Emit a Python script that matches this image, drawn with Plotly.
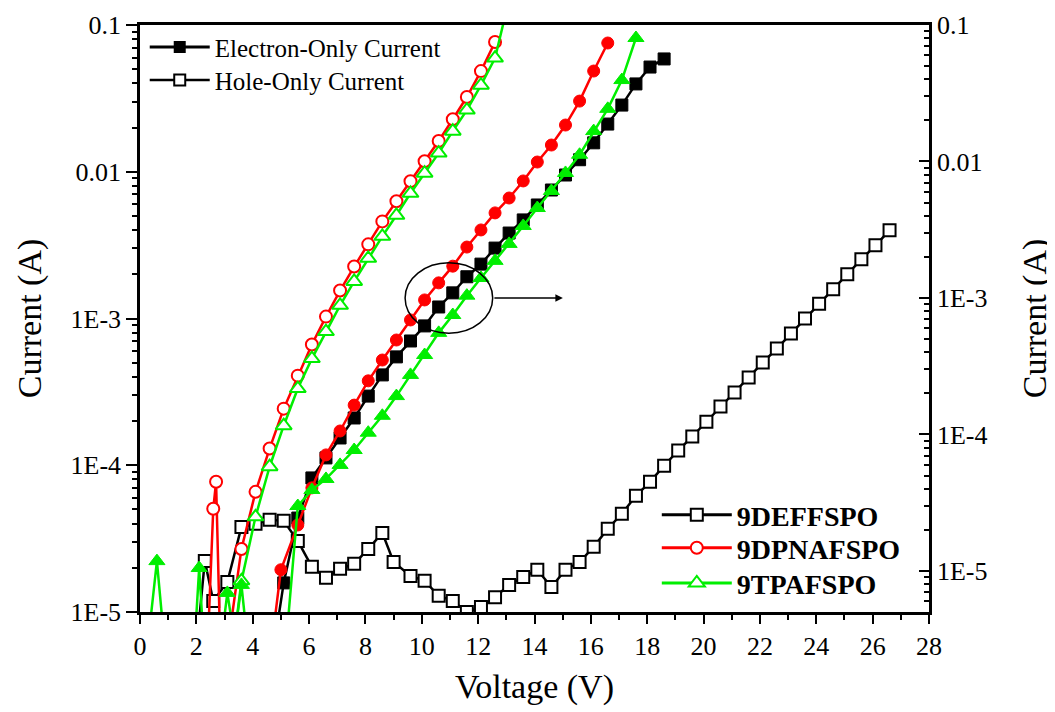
import plotly.graph_objects as go

# ---------------- data ----------------
# Hole-only currents (open markers, left axis)
v_hole_deff = [2.0, 2.3, 2.6, 3.1, 3.6, 4.1, 4.6, 5.1, 5.6, 6.1, 6.6, 7.1, 7.6, 8.1, 8.6, 9.0, 9.6, 10.1,
               10.6, 11.1, 11.6, 12.1, 12.6, 13.1, 13.6, 14.1, 14.6, 15.1, 15.6, 16.1, 16.6, 17.1, 17.6,
               18.1, 18.6, 19.1, 19.6, 20.1, 20.6, 21.1, 21.6, 22.1, 22.6, 23.1, 23.6, 24.1, 24.6, 25.1,
               25.6, 26.1, 26.6]
i_hole_deff = [5.6e-6, 2.23e-5, 1.19e-5, 1.60e-5, 3.80e-5, 3.99e-5, 4.25e-5, 4.18e-5, 3.05e-5, 2.03e-5,
               1.71e-5, 1.97e-5, 2.13e-5, 2.69e-5, 3.46e-5, 2.19e-5, 1.76e-5, 1.63e-5, 1.29e-5, 1.19e-5,
               1.0e-5, 1.08e-5, 1.26e-5, 1.53e-5, 1.73e-5, 1.94e-5, 1.48e-5, 1.94e-5, 2.19e-5, 2.78e-5,
               3.69e-5, 4.67e-5, 6.19e-5, 7.71e-5, 9.93e-5, 1.26e-4, 1.57e-4, 1.98e-4, 2.51e-4, 3.13e-4,
               3.96e-4, 5.01e-4, 6.24e-4, 7.90e-4, 1.0e-3, 1.26e-3, 1.58e-3, 2.0e-3, 2.53e-3, 3.15e-3,
               3.99e-3]

v_hole_dpna = [2.4, 2.6, 2.7, 2.85, 3.1, 3.6, 4.1, 4.6, 5.1, 5.6, 6.1, 6.6, 7.1, 7.6, 8.1, 8.6, 9.1, 9.6,
               10.1, 10.6, 11.1, 11.6, 12.1, 12.6]
i_hole_dpna = [5.6e-6, 5.05e-5, 7.71e-5, 5.6e-6, 5.6e-6, 2.69e-5, 6.59e-5, 1.30e-4, 2.43e-4, 4.08e-4,
               6.65e-4, 1.03e-3, 1.55e-3, 2.26e-3, 3.20e-3, 4.59e-3, 6.29e-3, 8.61e-3, 1.18e-2, 1.62e-2,
               2.28e-2, 3.23e-2, 4.85e-2, 7.66e-2]

v_hole_tpa = [3.3, 3.6, 4.1, 4.6, 5.1, 5.6, 6.1, 6.6, 7.1, 7.6, 8.1, 8.6, 9.1, 9.6, 10.1, 10.6, 11.1,
              11.6, 12.1, 12.6, 13.1]
i_hole_tpa = [5.6e-6, 1.63e-5, 4.45e-5, 9.77e-5, 1.86e-4, 3.33e-4, 5.33e-4, 8.15e-4, 1.23e-3, 1.79e-3,
              2.57e-3, 3.63e-3, 5.05e-3, 7.13e-3, 9.77e-3, 1.34e-2, 1.89e-2, 2.63e-2, 3.89e-2, 5.95e-2,
              1.5e-1]

# Electron-only currents (filled markers, right axis)
v_el_deff = [4.8, 5.1, 5.6, 6.1, 6.6, 7.1, 7.6, 8.1, 8.6, 9.1, 9.6, 10.1, 10.6, 11.1, 11.6, 12.1, 12.6,
             13.1, 13.6, 14.1, 14.6, 15.1, 15.6, 16.1, 16.6, 17.1, 17.6, 18.1, 18.6]
i_el_deff = [3.2e-6, 8.17e-6, 2.44e-5, 4.80e-5, 6.73e-5, 9.42e-5, 1.32e-4, 1.91e-4, 2.73e-4, 3.70e-4,
             4.84e-4, 6.24e-4, 8.59e-4, 1.09e-3, 1.43e-3, 1.77e-3, 2.32e-3, 2.99e-3, 3.73e-3, 4.80e-3,
             6.18e-3, 7.96e-3, 1.03e-2, 1.37e-2, 1.88e-2, 2.59e-2, 3.70e-2, 4.92e-2, 5.64e-2]

v_el_dpna = [4.7, 5.0, 5.6, 6.1, 6.6, 7.1, 7.6, 8.1, 8.6, 9.1, 9.6, 10.1, 10.6, 11.1, 11.6, 12.1, 12.6,
             13.1, 13.6, 14.1, 14.6, 15.1, 15.6, 16.1, 16.6]
i_el_dpna = [3.2e-6, 1.02e-5, 2.17e-5, 4.06e-5, 7.08e-5, 1.06e-4, 1.64e-4, 2.47e-4, 3.51e-4, 4.92e-4,
             6.90e-4, 9.67e-4, 1.29e-3, 1.71e-3, 2.36e-3, 3.15e-3, 4.20e-3, 5.40e-3, 7.20e-3, 9.91e-3,
             1.32e-2, 1.85e-2, 2.77e-2, 4.60e-2, 7.38e-2]

v_el_tpa = [0.3, 0.6, 0.85, 1.95, 2.1, 2.25, 2.9, 3.1, 3.35, 3.6, 3.8, 5.2, 5.6, 6.1, 6.6, 7.1, 7.6, 8.1,
            8.6, 9.1, 9.6, 10.1, 10.6, 11.1, 11.6, 12.1, 12.6, 13.1, 13.6, 14.1, 14.6, 15.1, 15.6, 16.1,
            16.6, 17.1, 17.6]
i_el_tpa = [3.2e-6, 1.18e-5, 3.2e-6, 3.2e-6, 1.05e-5, 3.2e-6, 3.2e-6, 6.9e-6, 3.2e-6, 7.9e-6, 3.2e-6,
            3.2e-6, 2.99e-5, 3.92e-5, 4.72e-5, 5.98e-5, 7.69e-5, 1.03e-4, 1.37e-4, 1.91e-4, 2.73e-4,
            3.82e-4, 5.55e-4, 7.50e-4, 1.04e-3, 1.40e-3, 1.87e-3, 2.49e-3, 3.37e-3, 4.56e-3, 6.08e-3,
            8.24e-3, 1.12e-2, 1.67e-2, 2.43e-2, 3.95e-2, 8.03e-2]

compounds = ["9DEFFSPO", "9DPNAFSPO", "9TPAFSPO"]
type_labels = ["Electron-Only Current", "Hole-Only Current"]
y_tickvals = [1e-5, 1e-4, 1e-3, 1e-2, 1e-1]
y_ticktext = ["1E-5", "1E-4", "1E-3", "0.01", "0.1"]

# ---------------- styling ----------------
FONT = "Times New Roman, Liberation Serif, DejaVu Serif, serif"
BLACK, RED, GREEN = "#000000", "#ff0000", "#00ee00"
colors = [BLACK, RED, GREEN]
symbols = ["square", "circle", "triangle-up"]
sizes = [12, 12, 14]

fig = go.Figure()

hole = [(v_hole_deff, i_hole_deff), (v_hole_dpna, i_hole_dpna), (v_hole_tpa, i_hole_tpa)]
elec = [(v_el_deff, i_el_deff), (v_el_dpna, i_el_dpna), (v_el_tpa, i_el_tpa)]

for k, (v, i) in enumerate(elec):
    fig.add_trace(go.Scatter(
        x=v, y=i, yaxis="y2", mode="lines+markers", showlegend=False,
        line=dict(color=colors[k], width=2.5),
        marker=dict(symbol=symbols[k], size=sizes[k], color=colors[k],
                    line=dict(color=colors[k], width=1)),
        cliponaxis=True))

for k, (v, i) in enumerate(hole):
    fig.add_trace(go.Scatter(
        x=v, y=i, yaxis="y", mode="lines+markers", showlegend=False,
        line=dict(color=colors[k], width=2.5),
        marker=dict(symbol=symbols[k], size=sizes[k], color="white",
                    line=dict(color=colors[k], width=2)),
        cliponaxis=True))

# legend entries (one legend each, for exact placement)
fig.add_trace(go.Scatter(x=[None], y=[None], mode="lines+markers", name=type_labels[0],
                         line=dict(color=BLACK, width=3),
                         marker=dict(symbol="square", size=12, color=BLACK), legend="legend"))
fig.add_trace(go.Scatter(x=[None], y=[None], mode="lines+markers", name=type_labels[1],
                         line=dict(color=BLACK, width=2.5),
                         marker=dict(symbol="square", size=11, color="white",
                                     line=dict(color=BLACK, width=2)), legend="legend2"))
for k, name in enumerate(compounds):
    fig.add_trace(go.Scatter(x=[None], y=[None], mode="lines+markers", name=name,
                             line=dict(color=colors[k], width=3),
                             marker=dict(symbol=symbols[k], size=sizes[k], color="white",
                                         line=dict(color=colors[k], width=2)),
                             legend="legend%d" % (k + 3)))

axis_font = dict(family=FONT, size=26, color="black")
title_font = dict(family=FONT, size=34, color="black")
minor_vals = [m * 10 ** e for e in range(-6, -1) for m in range(2, 10)]

type_legend_font = dict(family=FONT, size=25, color="black")
comp_legend_font = dict(family=FONT, size=28, color="black", weight="bold")


def leg(x, y, font, iw):
    return dict(x=x, y=y, xanchor="left", yanchor="middle", bgcolor="rgba(0,0,0,0)",
                font=font, itemwidth=iw, borderwidth=0)


fig.update_layout(
    width=1055, height=712,
    margin=dict(l=132, r=134, t=17, b=108, autoexpand=False),
    paper_bgcolor="white", plot_bgcolor="white",
    font=dict(family=FONT, color="black"),
    xaxis=dict(range=[0, 28], dtick=2, tick0=0, showline=True, linecolor="black", linewidth=2.5,
               mirror=True, ticks="outside", ticklen=9, tickwidth=2, tickcolor="black",
               minor=dict(dtick=1, ticks="outside", ticklen=5, tickwidth=2, tickcolor="black"),
               showgrid=False, zeroline=False, tickfont=axis_font, automargin=False,
               title=dict(text="Voltage (V)", font=title_font, standoff=15)),
    yaxis=dict(type="log", range=[-5, -1], tickvals=y_tickvals, ticktext=y_ticktext,
               showline=True, linecolor="black", linewidth=2.5, ticks="outside", ticklen=11,
               tickwidth=2, tickcolor="black", automargin=False,
               minor=dict(tickvals=minor_vals, ticks="outside", ticklen=5, tickwidth=1.5,
                          tickcolor="black", showgrid=False),
               showgrid=False, zeroline=False, tickfont=axis_font,
               title=dict(text="Current (A)", font=title_font, standoff=19)),
    yaxis2=dict(type="log", range=[-5.301, -1], overlaying="y", side="right",
                tickvals=y_tickvals, ticktext=y_ticktext, automargin=False,
                showline=True, linecolor="black", linewidth=2.5, ticks="inside", ticklen=10,
                tickwidth=2, tickcolor="black",
                minor=dict(tickvals=minor_vals, ticks="inside", ticklen=5, tickwidth=1.5,
                           tickcolor="black", showgrid=False),
                showgrid=False, zeroline=False, tickfont=axis_font,
                title=dict(text="Current (A)", font=title_font, standoff=36)),
    legend=leg(0.006, 0.962, type_legend_font, 60),
    legend2=leg(0.006, 0.906, type_legend_font, 60),
    legend3=leg(0.655, 0.165, comp_legend_font, 70),
    legend4=leg(0.655, 0.109, comp_legend_font, 70),
    legend5=leg(0.655, 0.049, comp_legend_font, 70),
    shapes=[
        dict(type="circle", xref="paper", yref="paper", x0=0.336, x1=0.447, y0=0.475, y1=0.595,
             line=dict(color="black", width=1.5)),
    ],
    annotations=[
        dict(xref="paper", yref="paper", x=0.536, y=0.535, ax=-70, ay=0,
             axref="pixel", ayref="pixel", showarrow=True, arrowhead=2, arrowsize=1,
             arrowwidth=1.5, arrowcolor="black", text=""),
    ],
)

fig.write_html("out.html")
